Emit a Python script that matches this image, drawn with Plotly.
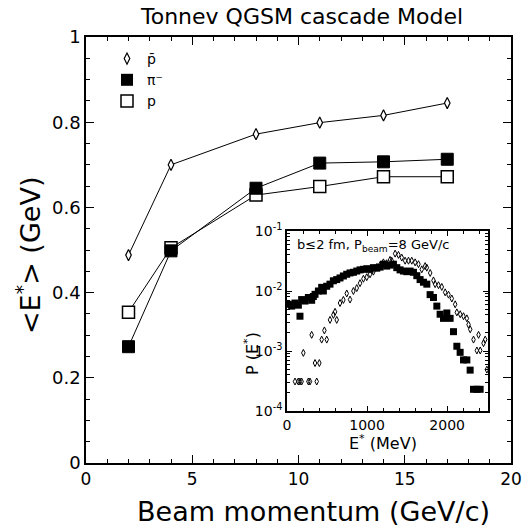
import plotly.graph_objects as go

W, H = 525, 531
# plot-area pixel frame of the main panel
L, R, T, B = 86, 511, 37, 463

# ---------------- main panel data ----------------
beam_mom = [2, 4, 8, 11, 14, 17]
e_pbar = [0.488, 0.700, 0.772, 0.799, 0.816, 0.845]
e_pim = [0.273, 0.498, 0.645, 0.704, 0.707, 0.713]
e_p = [0.354, 0.505, 0.629, 0.649, 0.672, 0.672]

main_xticks = [0, 5, 10, 15, 20]
main_yticks = [0, 0.2, 0.4, 0.6, 0.8, 1]
main_yticklabels = ["0", "0.2", "0.4", "0.6", "0.8", "1"]

# ---------------- inset data ----------------
sq_E = [17, 58, 100, 142, 162, 183, 225, 267, 308, 329, 350, 392, 433, 454, 496,
        537, 579, 621, 662, 704, 746, 787, 829, 871, 912, 954, 996, 1037, 1079,
        1121, 1162, 1204, 1245, 1287, 1329, 1371, 1412, 1454, 1496, 1537, 1579,
        1621, 1662, 1704, 1746, 1787, 1829, 1871, 1912, 1954, 1996, 2037, 2079,
        2121, 2162, 2204, 2246, 2287, 2329, 2371, 2412]
sq_P = [6.0e-3, 5.6e-3, 6.3e-3, 5.8e-3, 3.8e-3, 7.2e-3, 6.8e-3, 7.8e-3, 7.0e-3,
        8.1e-3, 8.8e-3, 1.0e-2, 1.15e-2, 1.0e-2, 1.2e-2, 1.3e-2, 1.48e-2, 1.55e-2,
        1.65e-2, 1.78e-2, 1.9e-2, 2.0e-2, 2.05e-2, 2.15e-2, 2.25e-2, 2.3e-2,
        2.35e-2, 2.3e-2, 2.45e-2, 2.4e-2, 2.5e-2, 2.8e-2, 2.6e-2, 2.7e-2, 2.8e-2,
        2.45e-2, 2.25e-2, 2.15e-2, 2.1e-2, 2.15e-2, 2.05e-2, 1.8e-2, 1.55e-2,
        1.4e-2, 1.3e-2, 8.7e-3, 7.8e-3, 5.6e-3, 4.1e-3, 3.5e-3, 4.3e-3, 3.5e-3,
        2.1e-3, 1.2e-3, 9.5e-4, 7.1e-4, 7.1e-4, 4.8e-4, 2.3e-4, 2.3e-4, 2.3e-4]

dm_E = [100, 141, 162, 183, 204, 267, 287, 308, 350, 371, 404, 433, 467, 496,
        537, 579, 600, 621, 662, 704, 746, 787, 829, 871, 912, 954, 996, 1037,
        1079, 1121, 1162, 1204, 1245, 1287, 1308, 1350, 1392, 1433, 1475, 1517,
        1558, 1600, 1642, 1683, 1725, 1746, 1788, 1829, 1850, 1892, 1933, 1975,
        2017, 2058, 2100, 2121, 2163, 2204, 2246, 2267, 2288, 2329, 2371, 2392,
        2413, 2454, 2475, 2496]
dm_P = [3.1e-4, 3.1e-4, 3.1e-4, 3.1e-4, 9.3e-4, 3.1e-4, 3.1e-4, 1.86e-3, 6.3e-4,
        3.1e-4, 6.3e-4, 1.55e-3, 2.2e-3, 1.55e-3, 3.3e-3, 4.0e-3, 4.5e-3, 3.3e-3,
        6.3e-3, 7.1e-3, 9.1e-3, 7.2e-3, 1.0e-2, 1.12e-2, 1.35e-2, 1.6e-2, 1.7e-2,
        1.9e-2, 2.1e-2, 2.5e-2, 2.7e-2, 3.0e-2, 2.9e-2, 3.3e-2, 3.2e-2, 4.2e-2,
        4.0e-2, 3.6e-2, 3.2e-2, 3.2e-2, 3.2e-2, 3.0e-2, 2.8e-2, 2.3e-2, 2.6e-2,
        2.45e-2, 2.0e-2, 1.5e-2, 1.3e-2, 1.25e-2, 1.17e-2, 9.5e-3, 8.7e-3, 7.5e-3,
        6.0e-3, 4.4e-3, 4.1e-3, 3.8e-3, 3.5e-3, 2.75e-3, 2.3e-3, 1.55e-3, 1.02e-3,
        1.86e-3, 1.02e-3, 1.35e-3, 1.55e-3, 4.9e-4]

inset_xticks = [0, 1000, 2000]
inset_yticks = [1e-4, 1e-3, 1e-2, 1e-1]
inset_yticklabels = ["10<sup>-4</sup>", "10<sup>-3</sup>", "10<sup>-2</sup>", "10<sup>-1</sup>"]
inset_yminor = [m * d for d in [1e-4, 1e-3, 1e-2] for m in range(2, 10)]

FONT = "DejaVu Sans"


# pixel -> paper coords (paper = main plot area)
def fx(x):
    return (x - L) / (R - L)


def fy(y):
    return (B - y) / (B - T)


fig = go.Figure()

# main series (lines + markers)
fig.add_trace(go.Scatter(x=beam_mom, y=e_pbar, mode="lines+markers",
                         line=dict(color="black", width=1),
                         marker=dict(symbol="diamond-tall", size=8, color="white",
                                     line=dict(color="black", width=1.2)),
                         showlegend=False, xaxis="x", yaxis="y"))
fig.add_trace(go.Scatter(x=beam_mom, y=e_p, mode="lines+markers",
                         line=dict(color="black", width=1),
                         marker=dict(symbol="square", size=12, color="white",
                                     line=dict(color="black", width=1.5)),
                         showlegend=False, xaxis="x", yaxis="y"))
fig.add_trace(go.Scatter(x=beam_mom, y=e_pim, mode="lines+markers",
                         line=dict(color="black", width=1),
                         marker=dict(symbol="square", size=12, color="black",
                                     line=dict(color="black", width=1)),
                         showlegend=False, xaxis="x", yaxis="y"))

# legend-only entries (markers only)
fig.add_trace(go.Scatter(x=[None], y=[None], mode="markers", name="p̄",
                         marker=dict(symbol="diamond-tall", size=8, color="white",
                                     line=dict(color="black", width=1.2)),
                         xaxis="x", yaxis="y"))
fig.add_trace(go.Scatter(x=[None], y=[None], mode="markers", name="π⁻",
                         marker=dict(symbol="square", size=12, color="black"),
                         xaxis="x", yaxis="y"))
fig.add_trace(go.Scatter(x=[None], y=[None], mode="markers", name="p",
                         marker=dict(symbol="square", size=12, color="white",
                                     line=dict(color="black", width=1.5)),
                         xaxis="x", yaxis="y"))

# inset series
fig.add_trace(go.Scatter(x=sq_E, y=sq_P, mode="markers",
                         marker=dict(symbol="square", size=7, color="black"),
                         showlegend=False, xaxis="x2", yaxis="y2"))
fig.add_trace(go.Scatter(x=dm_E, y=dm_P, mode="markers",
                         marker=dict(symbol="diamond-tall-open", size=5, color="black",
                                     line=dict(width=1)),
                         showlegend=False, xaxis="x2", yaxis="y2"))

axis_common = dict(showline=True, linecolor="black", linewidth=1.5, mirror="allticks",
                   ticks="inside", tickcolor="black", showgrid=False, zeroline=False,
                   automargin=False)


def ann(text, x, y, size, angle=0, xanchor="center", yanchor="middle"):
    return dict(text=text, x=fx(x), y=fy(y), xref="paper", yref="paper",
                xanchor=xanchor, yanchor=yanchor, showarrow=False, textangle=angle,
                font=dict(size=size, family=FONT, color="black"))


fig.update_layout(
    width=W, height=H, autosize=False,
    margin=dict(l=L, r=W - R, t=T, b=H - B, pad=0, autoexpand=False),
    paper_bgcolor="white", plot_bgcolor="white",
    font=dict(family=FONT, color="black"),
    xaxis=dict(domain=[0, 1], range=[0, 20], anchor="y",
               tickvals=main_xticks, ticklen=8, tickwidth=1.2,
               tickfont=dict(size=17, family=FONT),
               minor=dict(dtick=1, ticks="inside", ticklen=4, tickcolor="black"),
               **axis_common),
    yaxis=dict(domain=[0, 1], range=[0, 1], anchor="x",
               tickvals=main_yticks, ticktext=main_yticklabels, ticklen=8, tickwidth=1.2,
               tickfont=dict(size=18, family=FONT),
               minor=dict(dtick=0.05, ticks="inside", ticklen=4, tickcolor="black"),
               **axis_common),
    xaxis2=dict(domain=[fx(287), fx(488)], range=[0, 2510], anchor="y2",
                tickvals=inset_xticks, ticklen=5, tickwidth=1,
                tickfont=dict(size=14, family=FONT),
                minor=dict(dtick=200, ticks="inside", ticklen=3, tickcolor="black"),
                **axis_common),
    yaxis2=dict(domain=[fy(411), fy(231)], type="log", range=[-4, -1], anchor="x2",
                tickvals=inset_yticks, ticktext=inset_yticklabels, ticklen=5, tickwidth=1,
                tickfont=dict(size=14, family=FONT),
                minor=dict(tickvals=inset_yminor, ticks="inside", ticklen=3, tickcolor="black"),
                **axis_common),
    legend=dict(x=fx(107), y=fy(43), xanchor="left", yanchor="top",
                bgcolor="rgba(0,0,0,0)", borderwidth=0,
                font=dict(size=14, family=FONT), tracegroupgap=0),
    annotations=[
        ann("Tonnev QGSM cascade Model", 301, 16, 22),
        ann("Beam momentum (GeV/c)", 313, 511, 27),
        ann("&lt;E<sup>*</sup>&gt; (GeV)", 28, 256, 27, angle=-90),
        ann("b≤2 fm, P<sub>beam</sub>=8 GeV/c", 295, 245, 13, xanchor="left"),
        ann("E<sup>*</sup> (MeV)", 383, 442, 16),
        ann("P (E<sup>*</sup>)", 251, 354, 16, angle=-90),
    ],
)

fig.write_html("out.html")
